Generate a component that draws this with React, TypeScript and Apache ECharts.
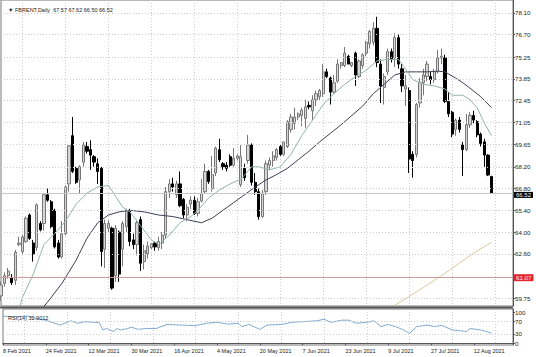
import React, { useEffect, useRef } from 'react';
import * as echarts from 'echarts';

const symbolName = 'FBRENT,Daily';
const rsiLabel = 'RSI(14) 32.9012';

const opens = [59.9, 60.7, 61.2, 61.05, 60.9, 63.2, 62.75, 63.4, 65.1, 63.3, 63.0, 64.55, 64.55, 66.4, 65.95, 65.4, 63.3, 62.4, 63.9, 67.1,
  70.2, 68.1, 67.35, 68.5, 69.5, 69.3, 68.85, 68.4, 68.1, 62.9, 64.25, 64.25, 61.2, 64.0, 62.9, 64.35, 65.4, 63.5, 63.2, 64.8,
  62.1, 62.6, 63.0, 63.3, 63.0, 63.3, 63.8, 66.6, 67.1, 66.4, 67.1, 66.1, 65.1, 65.8, 66.05, 65.2, 66.0, 66.6, 67.9, 66.8,
  67.8, 69.3, 68.4, 68.3, 68.85, 68.3, 68.75, 67.05, 68.1, 68.6, 69.6, 67.2, 66.6, 65.0, 66.6, 68.3, 68.6, 68.8, 69.5, 69.0,
  69.5, 70.6, 71.0, 71.4, 71.5, 71.3, 72.15, 71.8, 72.5, 72.7, 72.9, 74.3, 73.9, 73.0, 73.7, 74.7, 74.7, 75.3, 74.7, 75.5,
  74.0, 74.7, 75.5, 76.1, 76.2, 77.1, 74.8, 73.3, 74.3, 75.6, 75.2, 76.5, 74.5, 73.2, 73.1, 69.0, 69.0, 72.3, 73.6, 74.0,
  74.0, 73.8, 74.3, 75.2, 75.2, 72.4, 71.7, 70.6, 71.2, 69.6, 69.3, 70.9, 71.5, 71.1, 70.3, 69.8, 68.95, 67.57];
const highs = [60.8, 61.4, 61.7, 61.3, 62.85, 63.7, 63.8, 65.0, 65.2, 63.5, 65.85, 64.7, 66.5, 66.8, 66.06, 65.5, 63.5, 64.7, 67.0, 69.6,
  71.4, 68.2, 68.3, 69.8, 69.8, 69.9, 68.95, 68.75, 68.2, 64.8, 64.75, 64.35, 64.45, 64.1, 64.7, 65.5, 65.5, 63.9, 64.8, 65.0,
  63.2, 63.4, 63.3, 63.4, 63.7, 64.0, 66.9, 67.4, 67.5, 67.3, 67.9, 66.2, 65.8, 66.3, 66.3, 66.2, 67.4, 68.4, 68.0, 68.9,
  69.5, 70.0, 68.5, 68.5, 69.0, 69.4, 69.0, 69.6, 68.4, 70.25, 69.7, 67.8, 66.8, 66.7, 68.6, 68.8, 69.2, 69.4, 69.6, 69.8,
  71.2, 71.6, 72.0, 71.7, 72.0, 72.5, 72.4, 72.8, 73.1, 73.2, 74.8, 74.5, 74.0, 74.1, 75.1, 74.9, 75.9, 75.4, 74.9, 75.6,
  75.1, 75.5, 76.3, 77.0, 77.5, 77.84, 75.1, 74.2, 75.8, 75.8, 76.8, 76.7, 74.8, 74.1, 73.3, 69.2, 72.3, 73.9, 74.5, 75.0,
  74.3, 74.5, 75.7, 75.8, 75.4, 73.0, 71.8, 71.3, 71.4, 69.8, 71.6, 71.7, 71.8, 71.2, 70.4, 70.0, 69.0, 67.62];
const lows = [59.6, 60.5, 61.0, 60.6, 60.6, 63.1, 62.6, 63.3, 63.5, 62.1, 62.8, 64.05, 64.1, 65.95, 64.24, 62.95, 62.3, 62.3, 63.8, 66.6,
  67.8, 67.1, 66.5, 68.2, 69.05, 68.0, 68.2, 67.1, 61.8, 61.7, 64.0, 60.3, 60.8, 60.8, 61.8, 64.0, 63.1, 62.9, 62.5, 61.5,
  61.6, 62.3, 62.9, 62.8, 62.8, 62.9, 63.6, 66.2, 66.6, 66.2, 65.6, 64.9, 64.7, 65.5, 65.1, 65.0, 65.9, 66.5, 67.1, 66.6,
  67.6, 68.5, 68.0, 67.9, 68.2, 68.2, 68.6, 66.9, 67.3, 68.4, 67.0, 66.4, 64.8, 64.9, 66.4, 68.0, 68.2, 68.6, 68.9, 68.9,
  69.4, 70.4, 70.6, 71.2, 70.8, 70.7, 71.9, 71.2, 72.1, 72.5, 72.7, 73.9, 72.2, 72.9, 73.6, 74.5, 74.6, 74.8, 74.6, 73.4,
  73.9, 74.5, 75.3, 75.8, 76.0, 74.6, 72.3, 72.2, 74.1, 74.9, 74.6, 74.5, 73.0, 72.1, 67.8, 67.5, 68.8, 72.0, 72.8, 73.7,
  73.5, 73.6, 74.2, 74.8, 72.3, 71.4, 70.1, 70.2, 70.4, 67.6, 69.2, 70.7, 71.0, 70.1, 69.5, 68.2, 67.6, 66.50];
const closes = [60.6, 61.2, 61.5, 60.75, 62.7, 63.3, 63.7, 64.9, 63.6, 62.6, 65.75, 64.15, 66.4, 66.05, 64.35, 63.05, 62.4, 63.9, 66.9, 69.55,
  67.9, 67.2, 68.2, 69.6, 69.2, 68.95, 68.5, 67.9, 62.75, 64.55, 64.55, 60.4, 64.25, 61.3, 64.55, 65.4, 63.4, 63.2, 64.6, 62.0,
  62.8, 63.1, 63.25, 63.05, 63.4, 63.8, 66.6, 67.1, 66.9, 67.1, 65.7, 65.1, 65.6, 66.05, 65.2, 65.95, 66.5, 67.9, 67.25, 67.7,
  69.4, 68.65, 68.2, 68.1, 68.3, 68.75, 68.9, 68.85, 67.5, 69.6, 67.2, 66.6, 65.0, 66.5, 68.4, 68.6, 68.9, 69.3, 69.0, 69.8,
  71.1, 71.4, 71.4, 71.6, 71.85, 72.05, 72.05, 72.5, 72.9, 73.1, 74.3, 74.0, 73.0, 73.6, 74.8, 74.9, 75.5, 74.8, 74.9, 74.1,
  75.0, 75.4, 76.2, 76.9, 77.1, 74.9, 73.4, 74.0, 75.6, 75.1, 76.5, 74.8, 73.4, 73.4, 68.7, 68.6, 72.2, 73.6, 74.1, 74.8,
  73.8, 74.3, 75.2, 75.3, 72.4, 71.6, 70.3, 71.2, 70.6, 69.3, 70.9, 71.5, 71.2, 70.25, 69.7, 68.95, 67.67, 66.52];

const fastMA = [[4, 58.2], [6, 59.8], [9, 61.3], [12, 63.2], [15, 63.9], [18, 64.7], [21, 65.8], [24, 66.5], [27, 66.9], [30, 67.0],
  [32, 66.3], [34, 65.6], [36, 65.3], [39, 64.4], [42, 63.5], [44, 63.2], [47, 63.8], [50, 64.6], [53, 65.0], [55, 65.4],
  [58, 66.2], [61, 66.7], [64, 67.1], [67, 67.4], [70, 68.2], [72, 68.2], [75, 68.0], [78, 68.2], [81, 69.0], [84, 70.2],
  [87, 71.2], [90, 72.2], [93, 72.9], [96, 73.5], [99, 74.0], [102, 74.4], [105, 75.0], [108, 75.1], [111, 75.1], [113, 74.5],
  [115, 73.8], [118, 73.5], [121, 73.4], [124, 73.2], [126, 72.8], [129, 72.8], [131, 72.5], [133, 72.0], [135, 71.0], [137, 70.2]];
const slowMA = [[10, 58.7], [13, 59.5], [17, 60.7], [21, 62.2], [24, 63.6], [27, 64.6], [30, 65.1], [33, 65.3], [36, 65.4], [40, 65.3],
  [44, 65.1], [48, 65.0], [52, 64.8], [56, 64.6], [59, 64.9], [62, 65.4], [65, 65.9], [68, 66.4], [71, 66.9], [74, 67.35],
  [77, 67.7], [80, 68.1], [83, 68.65], [86, 69.2], [89, 69.8], [92, 70.35], [95, 70.9], [98, 71.5], [101, 72.1], [104, 72.9],
  [107, 73.5], [110, 74.1], [113, 74.3], [116, 74.3], [119, 74.3], [122, 74.35], [124, 74.3], [127, 73.9], [129, 73.6], [131, 73.25],
  [134, 72.7], [137, 72.0]];
const longMA = [[107, 58.9], [109, 59.15], [117, 60.3], [124, 61.35], [131, 62.5], [137, 63.35]];

const rsi = [[0, 88], [3, 86], [7, 88], [9, 81], [10, 78], [12, 75], [16, 59], [19, 73], [21, 65], [23, 70], [27, 67], [28, 43],
  [29, 48], [31, 38], [32, 48], [33, 43], [35, 48], [36, 52], [38, 45], [40, 48], [43, 48], [46, 61], [50, 59], [54, 57],
  [57, 65], [60, 68], [63, 62], [66, 65], [67, 54], [69, 61], [72, 45], [74, 59], [78, 61], [81, 68], [84, 70], [88, 73],
  [90, 78], [92, 68], [95, 75], [97, 75], [99, 65], [102, 68], [104, 73], [106, 54], [108, 61], [110, 54], [112, 45], [114, 32],
  [116, 54], [119, 59], [121, 54], [123, 58], [126, 43], [128, 41], [130, 38], [131, 48], [134, 43], [137, 32.9]];

const priceTicks = [78.10, 76.70, 75.25, 73.85, 72.45, 71.05, 69.65, 68.20, 66.80, 65.40, 64.00, 62.60, 59.75];
const rsiTicks = [100, 70, 30, 0];
const rsiLevels = [70, 30];
const alertLevel = 61.07;
const dateTicks = ['8 Feb 2021', '24 Feb 2021', '12 Mar 2021', '30 Mar 2021', '16 Apr 2021', '4 May 2021', '20 May 2021',
  '7 Jun 2021', '23 Jun 2021', '9 Jul 2021', '27 Jul 2021', '12 Aug 2021'];

const BARS_PER_LABEL = 12;
const EXTRA_SLOTS = 6;
const FONT = 'Liberation Sans';

export default function App() {
  const ref = useRef<HTMLDivElement>(null);
  useEffect(() => {
    const chart = echarts.init(ref.current!, null, { renderer: 'svg' });
    const n = closes.length;
    const last = n - 1;
    const slots = Array.from({ length: n + EXTRA_SLOTS }, (_, i) => String(i));
    const candles = opens.map((o, i) => [o, closes[i], lows[i], highs[i]]);
    const labelFn = (i: number) => i % BARS_PER_LABEL === 0 && i / BARS_PER_LABEL < dateTicks.length;
    const gridFn = (i: number) => i >= BARS_PER_LABEL / 2 && (i - BARS_PER_LABEL / 2) % BARS_PER_LABEL === 0;
    const gridLineStyle = { color: '#cdcdcd', type: [1, 2] as any, width: 1 };
    const header = '\u25BC ' + symbolName + '  ' + [opens[last], highs[last], lows[last], closes[last]].map((v) => v.toFixed(2)).join(' ');

    const xBase = {
      type: 'category' as const,
      data: slots,
      boundaryGap: false,
      axisLine: { show: false },
      axisTick: { show: false },
      axisLabel: { show: false },
      splitLine: { show: true, interval: gridFn, lineStyle: gridLineStyle },
    };

    chart.setOption({
      animation: false,
      backgroundColor: '#ffffff',
      textStyle: { fontFamily: FONT },
      title: [
        { text: header, left: 3, top: 2, textStyle: { fontSize: 5.5, fontWeight: 'normal', color: '#222', fontFamily: FONT } },
        { text: rsiLabel, left: 3, top: 310, textStyle: { fontSize: 5.5, fontWeight: 'normal', color: '#222', fontFamily: FONT } },
      ],
      grid: [
        { left: 1, top: 0, width: 512, height: 306, show: true, borderColor: '#777', borderWidth: 1 },
        { left: 1, top: 309, width: 512, height: 36, show: true, borderColor: '#777', borderWidth: 1 },
      ],
      xAxis: [
        { ...xBase, gridIndex: 0 },
        {
          ...xBase,
          gridIndex: 1,
          axisLine: { show: true, lineStyle: { color: '#555' } },
          axisTick: { show: true, interval: labelFn, length: 2, lineStyle: { color: '#555' } },
          axisLabel: {
            show: true,
            interval: labelFn,
            formatter: (v: string) => dateTicks[Number(v) / BARS_PER_LABEL] ?? '',
            align: 'left',
            fontSize: 5.5,
            color: '#222',
            margin: 3,
            fontFamily: FONT,
          },
        },
      ],
      yAxis: [
        {
          gridIndex: 0,
          type: 'value',
          position: 'right',
          min: 59.25,
          max: 78.92,
          axisLine: { show: true, lineStyle: { color: '#555' } },
          axisTick: { show: true, length: 2, customValues: priceTicks, lineStyle: { color: '#555' } },
          axisLabel: { show: true, customValues: priceTicks, formatter: (v: number) => v.toFixed(2), fontSize: 6.2, color: '#222', margin: 2, fontFamily: FONT },
          splitLine: { show: false },
        },
        {
          gridIndex: 1,
          type: 'value',
          position: 'right',
          min: -5.8,
          max: 111.3,
          axisLine: { show: true, lineStyle: { color: '#555' } },
          axisTick: { show: true, length: 2, customValues: rsiTicks, lineStyle: { color: '#555' } },
          axisLabel: { show: true, customValues: rsiTicks, formatter: (v: number) => String(v), fontSize: 6.2, color: '#222', margin: 2, fontFamily: FONT },
          splitLine: { show: false },
        },
      ],
      graphic: [
        { type: 'line', shape: { x1: 0, y1: 307.5, x2: 513, y2: 307.5 }, style: { stroke: '#555', lineWidth: 2 }, z: 100 },
      ],
      series: [
        {
          type: 'line',
          xAxisIndex: 0,
          yAxisIndex: 0,
          data: [[0, closes[0]]],
          showSymbol: false,
          lineStyle: { opacity: 0 },
          silent: true,
          z: 1,
          markLine: {
            silent: true,
            symbol: ['none', 'none'],
            label: { show: false },
            lineStyle: gridLineStyle,
            data: priceTicks.map((v) => ({ yAxis: v })),
          },
        },
        {
          type: 'candlestick',
          xAxisIndex: 0,
          yAxisIndex: 0,
          data: candles,
          barWidth: 2.7,
          z: 3,
          itemStyle: { color: '#d6d6d6', color0: '#000000', borderColor: '#777777', borderColor0: '#000000', borderWidth: 1 },
          markLine: {
            silent: true,
            symbol: ['none', 'none'],
            data: [
              {
                yAxis: closes[last],
                lineStyle: { color: '#c6c6c6', type: 'solid', width: 1 },
                label: { show: true, position: 'end', distance: 1, offset: [0, 2], formatter: closes[last].toFixed(2), backgroundColor: '#000', color: '#fff', fontSize: 6, padding: [0, 2, 0, 2], fontFamily: FONT },
              },
              {
                yAxis: alertLevel,
                lineStyle: { color: '#cf9a9a', type: 'solid', width: 1 },
                label: { show: true, position: 'end', distance: 1, formatter: alertLevel.toFixed(2), backgroundColor: '#e0262b', color: '#ffe8e8', fontSize: 6.2, padding: [1, 2, 0, 2], fontFamily: FONT },
              },
            ],
          },
        },
        { type: 'line', xAxisIndex: 0, yAxisIndex: 0, data: longMA, showSymbol: false, z: 4, lineStyle: { color: '#d8caa0', width: 1 } },
        { type: 'line', xAxisIndex: 0, yAxisIndex: 0, data: slowMA, showSymbol: false, z: 4, lineStyle: { color: '#3d3f55', width: 1 } },
        { type: 'line', xAxisIndex: 0, yAxisIndex: 0, data: fastMA, showSymbol: false, z: 4, lineStyle: { color: '#92b3ab', width: 1 } },
        {
          type: 'line',
          xAxisIndex: 1,
          yAxisIndex: 1,
          data: rsi,
          showSymbol: false,
          z: 4,
          lineStyle: { color: '#82aad2', width: 1 },
          markLine: {
            silent: true,
            symbol: ['none', 'none'],
            label: { show: false },
            lineStyle: gridLineStyle,
            data: rsiLevels.map((v) => ({ yAxis: v })),
          },
        },
      ],
    });
    return () => chart.dispose();
  }, []);
  return <div ref={ref} style={{ position: 'fixed', left: 0, top: 0, width: 536, height: 357 }} />;
}
